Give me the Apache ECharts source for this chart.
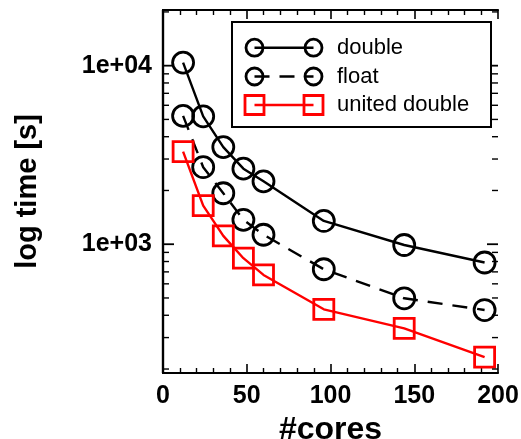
<!DOCTYPE html>
<html>
<head>
<meta charset="utf-8">
<script src="https://cdn.jsdelivr.net/npm/echarts@6/dist/echarts.min.js"></script>
<style>
  html, body { margin: 0; padding: 0; background: #fff; }
  #chart { width: 521px; height: 439px; }
</style>
</head>
<body>
<div id="chart"></div>
<script>
// ---- data ----
const cores = [12, 24, 36, 48, 60, 96, 144, 192];
const doubleTime = [10400, 5200, 3500, 2650, 2250, 1350, 990, 790];
const floatTime = [5230, 2700, 1930, 1370, 1130, 724, 498, 428];
const unitedDoubleTime = [3300, 1645, 1113, 835, 673, 432, 338, 233];
const seriesNames = ['double', 'float', 'united double'];
const xTickValues = [0, 50, 100, 150, 200];
const yTickValues = [1000, 10000];
const yTickLabels = ['1e+03', '1e+04'];
const yMinorTickValues = [200, 300, 400, 500, 600, 700, 800, 900,
  2000, 3000, 4000, 5000, 6000, 7000, 8000, 9000, 20000];
const xAxisName = '#cores';
const yAxisName = 'log time [s]';

const FONT = 'Liberation Sans, Arial, Helvetica, sans-serif';
const chart = echarts.init(document.getElementById('chart'), null, { renderer: 'canvas' });

function pairs(xs, ys) { return xs.map((x, i) => [x, ys[i]]); }

const axisLineStyle = { color: '#000', width: 2.2 };
const xAxisCommon = {
  type: 'value', min: 0, max: 200, interval: 50,
  axisLine: { show: true, onZero: false, lineStyle: axisLineStyle },
  axisTick: { show: true, inside: true, length: 9, lineStyle: { color: '#000', width: 1.6 } },
  minorTick: { show: true, splitNumber: 5, length: 5, lineStyle: { color: '#000', width: 1.4 } },
  splitLine: { show: false }
};
const yAxisCommon = {
  type: 'log', logBase: 10, min: 190, max: 20500,
  axisLine: { show: true, lineStyle: axisLineStyle },
  axisTick: { show: false },
  splitLine: { show: false }
};

const option = {
  backgroundColor: '#fff',
  animation: false,
  grid: { left: 163, top: 10, right: 23, bottom: 66, containLabel: false, outerBoundsMode: 'none' },
  xAxis: [
    Object.assign({}, xAxisCommon, {
      position: 'bottom',
      name: xAxisName, nameLocation: 'middle', nameGap: 40,
      nameTextStyle: { fontFamily: FONT, fontWeight: 'bold', fontSize: 32, color: '#000' },
      axisLabel: {
        show: true, margin: 11, color: '#000', fontFamily: FONT, fontWeight: 'bold', fontSize: 25,
        formatter: v => (xTickValues.indexOf(v) >= 0 ? String(v) : '')
      }
    }),
    Object.assign({}, xAxisCommon, { position: 'top', axisLabel: { show: false } })
  ],
  yAxis: [
    Object.assign({}, yAxisCommon, {
      position: 'left',
      name: yAxisName, nameLocation: 'middle', nameGap: 121, nameRotate: 90,
      nameTextStyle: { fontFamily: FONT, fontWeight: 'bold', fontSize: 29, color: '#000' },
      axisLabel: {
        show: true, margin: 11, color: '#000', fontFamily: FONT, fontWeight: 'bold', fontSize: 25,
        showMinLabel: false, showMaxLabel: false,
        formatter: v => {
          const i = yTickValues.findIndex(t => Math.abs(t - v) / t < 1e-6);
          return i >= 0 ? yTickLabels[i] : '';
        }
      }
    }),
    Object.assign({}, yAxisCommon, { position: 'right', axisLabel: { show: false } })
  ],
  series: [
    {
      name: seriesNames[0], type: 'line', data: pairs(cores, doubleTime),
      symbol: 'circle', symbolSize: 21, z: 3,
      lineStyle: { color: '#000', width: 2.4 },
      itemStyle: { color: 'rgba(255,255,255,0)', borderColor: '#000', borderWidth: 2.8 }
    },
    {
      name: seriesNames[1], type: 'line', data: pairs(cores, floatTime),
      symbol: 'circle', symbolSize: 21, z: 3,
      lineStyle: { color: '#000', width: 2.4, type: [15, 10] },
      itemStyle: { color: 'rgba(255,255,255,0)', borderColor: '#000', borderWidth: 2.8 }
    },
    {
      name: seriesNames[2], type: 'line', data: pairs(cores, unitedDoubleTime),
      symbol: 'rect', symbolSize: 20, z: 4,
      lineStyle: { color: '#ff0000', width: 2.4 },
      itemStyle: { color: 'rgba(255,255,255,0)', borderColor: '#ff0000', borderWidth: 2.8 }
    },
    {
      // log ticks (major and minor) on left and right frame, inward
      type: 'custom', silent: true, z: 5,
      data: yTickValues.map(v => [0, v, 11]).concat(yMinorTickValues.map(v => [0, v, 6])),
      renderItem: function (params, api) {
        const cs = params.coordSys;
        const y = api.coord([0, api.value(1)])[1];
        const len = api.value(2);
        const st = { stroke: '#000', lineWidth: len > 8 ? 1.8 : 1.4 };
        return {
          type: 'group',
          children: [
            { type: 'line', shape: { x1: cs.x, y1: y, x2: cs.x + len, y2: y }, style: st },
            { type: 'line', shape: { x1: cs.x + cs.width - len, y1: y, x2: cs.x + cs.width, y2: y }, style: st }
          ]
        };
      }
    }
  ],
  graphic: (function () {
    const rows = [47.7, 76.5, 105];
    const x1 = 254.5, x2 = 313.5, tx = 337;
    const els = [{
      type: 'rect', shape: { x: 232, y: 22, width: 259, height: 105 },
      style: { fill: '#fff', stroke: '#000', lineWidth: 2 }, z: 10
    }];
    const circ = (cx, cy) => ({ type: 'circle', shape: { cx: cx, cy: cy, r: 8.5 }, style: { fill: 'none', stroke: '#000', lineWidth: 2.8 }, z: 11 });
    const sq = (cx, cy) => ({ type: 'rect', shape: { x: cx - 9.5, y: cy - 9.5, width: 19, height: 19 }, style: { fill: 'none', stroke: '#ff0000', lineWidth: 2.8 }, z: 11 });
    const txt = (t, y) => ({ type: 'text', x: tx, y: y, style: { text: t, font: '22px ' + FONT, fill: '#000', verticalAlign: 'middle', align: 'left' }, z: 11 });
    // double
    els.push({ type: 'line', shape: { x1: x1, y1: rows[0], x2: x2, y2: rows[0] }, style: { stroke: '#000', lineWidth: 2.4 }, z: 11 });
    els.push(circ(x1, rows[0]), circ(x2, rows[0]), txt(seriesNames[0], rows[0]));
    // float
    els.push({ type: 'line', shape: { x1: x1, y1: rows[1], x2: x2, y2: rows[1] }, style: { stroke: '#000', lineWidth: 2.4, lineDash: [15, 10] }, z: 11 });
    els.push(circ(x1, rows[1]), circ(x2, rows[1]), txt(seriesNames[1], rows[1]));
    // united double
    els.push({ type: 'line', shape: { x1: x1, y1: rows[2], x2: x2, y2: rows[2] }, style: { stroke: '#ff0000', lineWidth: 2.4 }, z: 11 });
    els.push(sq(x1, rows[2]), sq(x2, rows[2]), txt(seriesNames[2], rows[2]));
    return els;
  })()
};

chart.setOption(option);
</script>
</body>
</html>
